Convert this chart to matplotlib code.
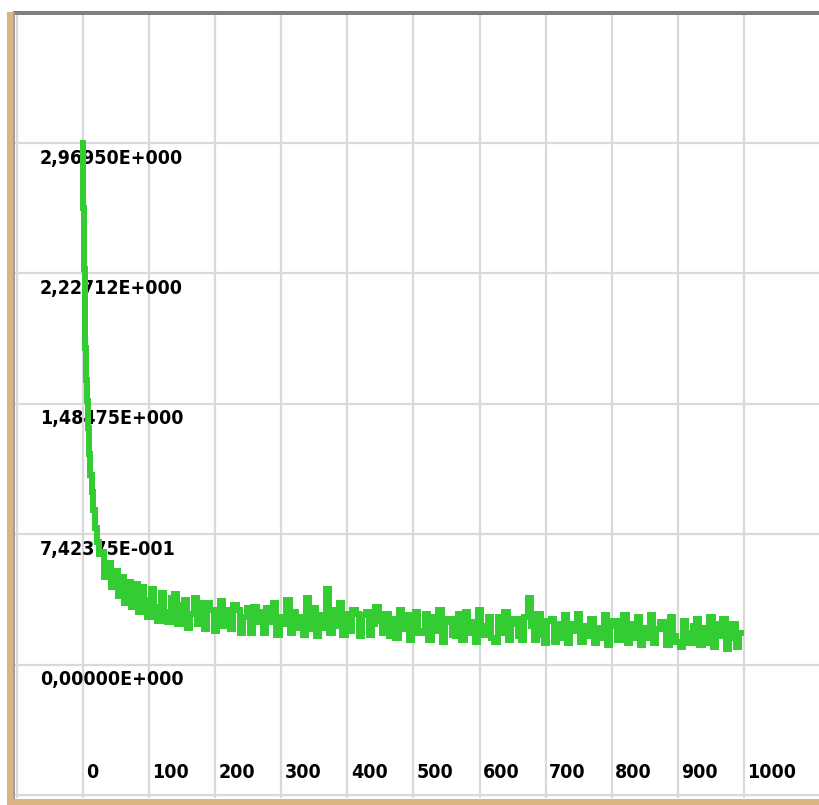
import numpy as np
import matplotlib
matplotlib.use("Agg")
import matplotlib.pyplot as plt
from matplotlib.patches import Rectangle

# early drop of the curve
xEarly = [0, 1, 2, 3, 4, 5, 6, 8, 10, 12, 14, 17, 20, 23, 26]
yEarly = [2.97, 2.60, 2.25, 2.00, 1.80, 1.62, 1.50, 1.35, 1.20, 1.08, 0.98, 0.88, 0.78, 0.70, 0.63]

# rest of the curve, one value every 5 steps from 30 to 995
xRest = list(range(30, 1000, 5))
yRest = [
    0.64, 0.50, 0.58, 0.44, 0.53, 0.39, 0.50, 0.35, 0.47, 0.33,
    0.46, 0.30, 0.44, 0.37, 0.27, 0.43, 0.33, 0.25, 0.41, 0.30,
    0.24, 0.38, 0.40, 0.23, 0.34, 0.37, 0.21, 0.29, 0.38, 0.23,
    0.35, 0.20, 0.35, 0.31, 0.19, 0.27, 0.36, 0.22, 0.31, 0.20,
    0.34, 0.31, 0.18, 0.27, 0.32, 0.18, 0.33, 0.24, 0.30, 0.18,
    0.32, 0.24, 0.35, 0.17, 0.27, 0.23, 0.37, 0.18, 0.30, 0.21,
    0.27, 0.17, 0.38, 0.20, 0.32, 0.16, 0.28, 0.21, 0.43, 0.18,
    0.31, 0.22, 0.35, 0.17, 0.29, 0.19, 0.31, 0.29, 0.16, 0.28,
    0.30, 0.17, 0.23, 0.33, 0.25, 0.18, 0.29, 0.16, 0.26, 0.15,
    0.31, 0.20, 0.28, 0.14, 0.24, 0.30, 0.18, 0.19, 0.29, 0.14,
    0.27, 0.19, 0.31, 0.13, 0.24, 0.26, 0.17, 0.16, 0.29, 0.14,
    0.30, 0.18, 0.24, 0.13, 0.31, 0.17, 0.22, 0.27, 0.15, 0.13,
    0.27, 0.18, 0.30, 0.14, 0.23, 0.26, 0.16, 0.14, 0.27, 0.38,
    0.22, 0.14, 0.29, 0.17, 0.12, 0.25, 0.26, 0.13, 0.23, 0.15,
    0.28, 0.12, 0.23, 0.19, 0.29, 0.13, 0.22, 0.16, 0.26, 0.12,
    0.21, 0.15, 0.28, 0.11, 0.22, 0.25, 0.14, 0.14, 0.28, 0.12,
    0.23, 0.15, 0.27, 0.11, 0.21, 0.15, 0.28, 0.12, 0.20, 0.24,
    0.24, 0.11, 0.27, 0.16, 0.13, 0.10, 0.25, 0.18, 0.12, 0.22,
    0.26, 0.11, 0.21, 0.12, 0.27, 0.10, 0.23, 0.16, 0.26, 0.09,
    0.15, 0.23, 0.10, 0.18,
]

xTicks = [0, 100, 200, 300, 400, 500, 600, 700, 800, 900, 1000]
yStep = 0.742375
yTicks = [0.0, yStep, 2 * yStep, 3 * yStep, 4 * yStep]
yLabels = ["0,00000E+000", "7,42375E-001", "1,48475E+000", "2,22712E+000", "2,96950E+000"]

W, H = 819, 805
fig = plt.figure(figsize=(W / 100, H / 100), dpi=100)
fig.patch.set_facecolor("white")

# plot area in pixels: left 15, right 819, top 14, bottom 798
ax = fig.add_axes([15 / W, 7 / H, 804 / W, 784 / H])
ax.set_xlim(-102.9, 1113.5)
ax.set_ylim(-0.76, 3.705)
ax.set_facecolor("white")
for s in ax.spines.values():
    s.set_visible(False)
ax.set_xticks([])
ax.set_yticks([])

gridCol = "#d9d9d9"
for gx in [-100] + xTicks:
    ax.axvline(gx, color=gridCol, lw=1.6, zorder=1)
for gy in [-yStep] + yTicks + [5 * yStep]:
    ax.axhline(gy, color=gridCol, lw=1.6, zorder=1)

fnt = dict(family=["DejaVu Sans"], stretch="condensed", weight="bold", size=14)

for v, lab in zip(yTicks, yLabels):
    ax.text(-65, v - 0.085, lab, ha="left", va="center", zorder=2, **fnt)
for t in xTicks:
    ax.text(t + 5, -0.6175, str(t), ha="left", va="center", zorder=2, **fnt)

xs = np.array(xEarly + xRest)
ys = np.array(yEarly + yRest)
ax.plot(xs, ys, color="#33cc33", lw=4.0, zorder=3, drawstyle="steps-mid",
        solid_joinstyle="miter", antialiased=False)

# window frame: tan on left and bottom, dark grey on top
tan = "#dcb483"
fig.patches.append(Rectangle((7 / W, 0), 6 / W, 1 - 12 / H, transform=fig.transFigure,
                             facecolor=tan, edgecolor="none", zorder=10))
fig.patches.append(Rectangle((7 / W, 0), 1 - 7 / W, 6 / H, transform=fig.transFigure,
                             facecolor=tan, edgecolor="none", zorder=10))
fig.patches.append(Rectangle((13 / W, 1 - 15 / H), 1 - 13 / W, 3.5 / H, transform=fig.transFigure,
                             facecolor="#7f7f7f", edgecolor="none", zorder=10))
fig.patches.append(Rectangle((13 / W, 6 / H), 2 / W, 1 - 18 / H, transform=fig.transFigure,
                             facecolor="#a0a0a0", edgecolor="none", zorder=10))

fig.savefig("out.png", dpi=100)
